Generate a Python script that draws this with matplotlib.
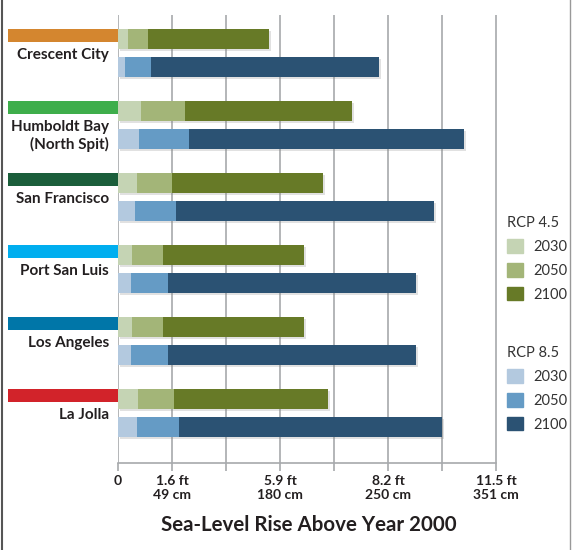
import matplotlib.pyplot as plt
import matplotlib.patheffects as pe
from matplotlib.patches import Patch
from matplotlib.lines import Line2D

plt.rcParams['font.family'] = ['Lato', 'DejaVu Sans']

cities = ["Crescent City", "Humboldt Bay\n(North Spit)", "San Francisco",
          "Port San Luis", "Los Angeles", "La Jolla"]
city_colors = ["#d4862f", "#3eae4b", "#1b5e3b", "#00aeef", "#0076a8", "#d2232a"]

# cumulative rise, in axis grid units (gridlines 1,3,5,7 = 1.6, 5.9, 8.2, 11.5 ft)
rcp45_2030 = [0.19, 0.43, 0.35, 0.26, 0.26, 0.37]
rcp45_2050 = [0.56, 1.24, 1.00, 0.83, 0.83, 1.04]
rcp45_2100 = [2.80, 4.33, 3.80, 3.44, 3.44, 3.89]
rcp85_2030 = [0.13, 0.39, 0.31, 0.24, 0.24, 0.35]
rcp85_2050 = [0.61, 1.31, 1.07, 0.93, 0.93, 1.13]
rcp85_2100 = [4.83, 6.41, 5.85, 5.52, 5.52, 6.00]

years = ["2030", "2050", "2100"]
colors45 = ["#c5d4b4", "#a3b578", "#677a27"]
colors85 = ["#b3c9df", "#659bc5", "#2b5273"]

tick_pos = [0, 1, 3, 5, 7]
tick_labels = ["0", "1.6 ft\n49 cm", "5.9 ft\n180 cm", "8.2 ft\n250 cm", "11.5 ft\n351 cm"]

txt = "#231f20"

fig = plt.figure(figsize=(5.73, 5.5), dpi=100)
ax = fig.add_axes([118/573, 87/550, 452/573, 448/550])
ax.set_xlim(0, 452/54)
ax.set_ylim(410/72, -38/72)

for g in range(8):
    ax.axvline(g, color="#a7a9ac", lw=1.2, zorder=0)

shadow = [pe.SimplePatchShadow(offset=(1.5, -1.5), shadow_rgbFace="#888888", alpha=0.25),
          pe.Normal()]

h = 20/72
off = 14/72
for i in range(len(cities)):
    segs45 = [rcp45_2030[i], rcp45_2050[i], rcp45_2100[i]]
    segs85 = [rcp85_2030[i], rcp85_2050[i], rcp85_2100[i]]
    left = 0
    for v, c in zip(segs45, colors45):
        b = ax.barh(i - off, v - left, left=left, height=h, color=c, zorder=3)
        b[0].set_path_effects(shadow)
        left = v
    left = 0
    for v, c in zip(segs85, colors85):
        b = ax.barh(i + off, v - left, left=left, height=h, color=c, zorder=3)
        b[0].set_path_effects(shadow)
        left = v
    # city color tab and name
    ax.barh(i - 17.5/72, 110/54, left=-110/54, height=13/72, color=city_colors[i],
            clip_on=False, zorder=3)
    ax.text(-9/54, i - 0.065, cities[i], ha="right", va="top", fontsize=11,
            fontweight="bold", color=txt, linespacing=1.2)

for s in ["top", "right", "left"]:
    ax.spines[s].set_visible(False)
ax.spines["bottom"].set_bounds(0, 7)
ax.spines["bottom"].set_color("#a7a9ac")
ax.spines["bottom"].set_linewidth(1.2)
ax.set_yticks([])
ax.set_xticks(range(8))
ax.set_xticklabels(["" for _ in range(8)])
ax.tick_params(axis="x", length=6, width=1.2, color="#a7a9ac")
for p, lab in zip(tick_pos, tick_labels):
    ax.annotate(lab, (p, 0), xycoords=("data", "axes fraction"), xytext=(0, -8.5),
                textcoords="offset points", ha="center", va="top", fontsize=10,
                fontweight="bold", color=txt, linespacing=1.2)

fig.text(309/573, 1 - 525/550, "Sea-Level Rise Above Year 2000", ha="center",
         va="center", fontsize=14.8, fontweight="bold", color=txt)

h45 = [Patch(color=c, label=y) for c, y in zip(colors45, years)]
h85 = [Patch(color=c, label=y) for c, y in zip(colors85, years)]
leg_kw = dict(loc="upper left", frameon=False, fontsize=10.5, handlelength=1.05,
              handleheight=1.05, handletextpad=0.75, labelspacing=0.62, borderpad=0,
              alignment="left", title_fontsize=10.5, labelcolor="#333333")
leg1 = ax.legend(handles=h45, title="RCP 4.5", bbox_to_anchor=(500/573, 1 - 209/550),
                 bbox_transform=fig.transFigure, **leg_kw)
ax.add_artist(leg1)
leg2 = ax.legend(handles=h85, title="RCP 8.5", bbox_to_anchor=(500/573, 1 - 339/550),
                 bbox_transform=fig.transFigure, **leg_kw)
for lg in (leg1, leg2):
    lg.get_title().set_color("#333333")

fig.add_artist(Line2D([2/573, 2/573], [0, 1], color="#555555", lw=1.5))
fig.add_artist(Line2D([570/573, 570/573], [0, 1], color="#999999", lw=1))

fig.savefig("out.png", dpi=100)
